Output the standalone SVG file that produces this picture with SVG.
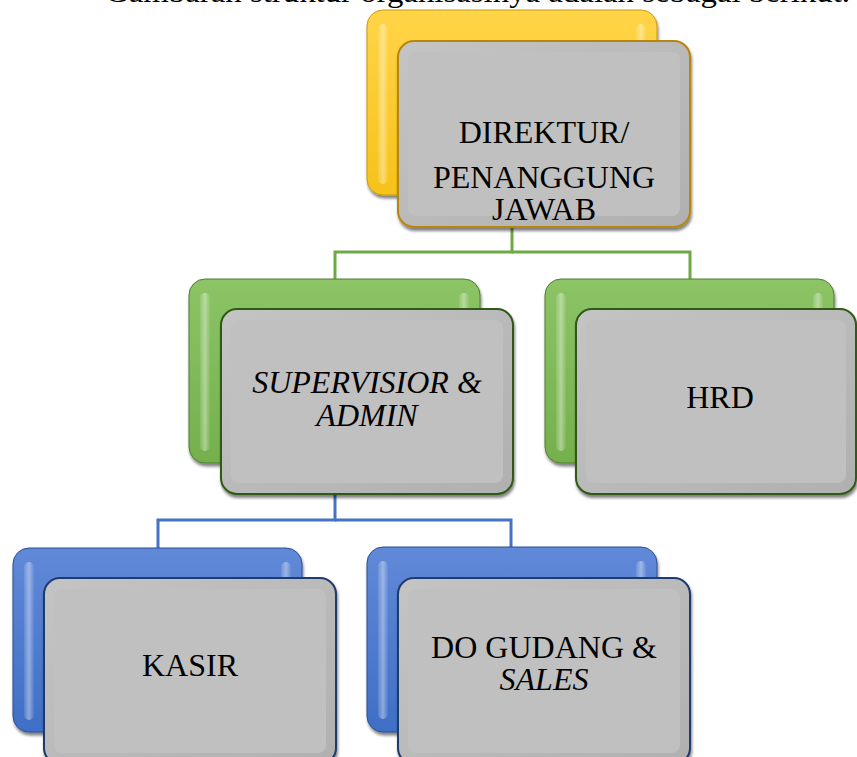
<svg xmlns="http://www.w3.org/2000/svg" width="857" height="757" viewBox="0 0 857 757">
<defs>
<linearGradient id="gY" x1="0" y1="0" x2="0" y2="1"><stop offset="0" stop-color="#ffd447"/><stop offset="1" stop-color="#f6c21a"/></linearGradient>
<linearGradient id="gG" x1="0" y1="0" x2="0" y2="1"><stop offset="0" stop-color="#8cc466"/><stop offset="1" stop-color="#74b04c"/></linearGradient>
<linearGradient id="gB" x1="0" y1="0" x2="0" y2="1"><stop offset="0" stop-color="#6189d8"/><stop offset="1" stop-color="#3f6fc6"/></linearGradient>
<linearGradient id="hl" x1="0" y1="0" x2="1" y2="0"><stop offset="0" stop-color="#ffffff" stop-opacity="0.1"/><stop offset="0.5" stop-color="#ffffff" stop-opacity="0.4"/><stop offset="1" stop-color="#ffffff" stop-opacity="0.05"/></linearGradient>
<linearGradient id="bev" x1="0" y1="0" x2="1" y2="1"><stop offset="0" stop-color="#c4c4c4"/><stop offset="1" stop-color="#b0b0b0"/></linearGradient>
<filter id="sh" x="-5%" y="-5%" width="115%" height="115%"><feGaussianBlur in="SourceAlpha" stdDeviation="1.5"/><feOffset dx="1" dy="3"/><feComponentTransfer><feFuncA type="linear" slope="0.5"/></feComponentTransfer><feMerge><feMergeNode/><feMergeNode in="SourceGraphic"/></feMerge></filter>
</defs>
<style>
.t{font-family:"Liberation Serif","Times New Roman",serif;font-size:32px;fill:#000;text-anchor:middle}
.i{font-style:italic}
.top{font-family:"Liberation Serif","Times New Roman",serif;font-size:30px;fill:#000}
.hl{fill:url(#hl)}
.face{fill:url(#bev);stroke-width:2}
.inner{fill:#c0c0c0}
.cg{fill:none;stroke:#6fa946;stroke-width:3}
.cb{fill:none;stroke:#4472c4;stroke-width:3}
</style>
<text class="top" x="105" y="2" textLength="745" lengthAdjust="spacingAndGlyphs">Gambaran struktur organisasinya adalah sebagai berikut.</text>

<g id="connectors">
<polyline class="cg" points="512,226 512,252 335,252 335,280"/>
<polyline class="cg" points="512,252 690,252 690,280"/>
<polyline class="cb" points="335,494 335,520 158,520 158,548"/>
<polyline class="cb" points="335,520 511,520 511,548"/>
</g>

<g id="node-direktur">
<rect x="367" y="10" width="290" height="185" rx="16" fill="url(#gY)" stroke="#c99a10" stroke-width="1" filter="url(#sh)"/>
<rect x="378" y="24" width="10" height="160" rx="5" class="hl"/>
<rect x="636" y="24" width="10" height="40" rx="5" class="hl"/>
<rect x="398" y="41" width="292" height="186" rx="16" class="face" stroke="#b8860b" filter="url(#sh)"/>
<rect x="408" y="52" width="272" height="164" rx="8" class="inner"/>
<text class="t" x="544" y="143">DIREKTUR/</text>
<text class="t" x="544" y="188">PENANGGUNG</text>
<text class="t" x="544" y="220">JAWAB</text>
</g>

<g id="node-supervisor">
<rect x="189" y="279" width="291" height="184" rx="16" fill="url(#gG)" stroke="#4e7d30" stroke-width="1" filter="url(#sh)"/>
<rect x="200" y="293" width="10" height="158" rx="5" class="hl"/>
<rect x="459" y="293" width="10" height="40" rx="5" class="hl"/>
<rect x="221" y="309" width="292" height="185" rx="16" class="face" stroke="#2f5a17" filter="url(#sh)"/>
<rect x="231" y="320" width="272" height="163" rx="8" class="inner"/>
<text class="t i" x="367" y="393">SUPERVISIOR &amp;</text>
<text class="t i" x="367" y="426">ADMIN</text>
</g>

<g id="node-hrd">
<rect x="545" y="279" width="289" height="184" rx="16" fill="url(#gG)" stroke="#4e7d30" stroke-width="1" filter="url(#sh)"/>
<rect x="556" y="293" width="10" height="158" rx="5" class="hl"/>
<rect x="813" y="293" width="10" height="40" rx="5" class="hl"/>
<rect x="576" y="309" width="280" height="185" rx="16" class="face" stroke="#2f5a17" filter="url(#sh)"/>
<rect x="586" y="320" width="260" height="163" rx="8" class="inner"/>
<text class="t" x="720" y="408">HRD</text>
</g>

<g id="node-kasir">
<rect x="13" y="548" width="289" height="184" rx="16" fill="url(#gB)" stroke="#2a4f93" stroke-width="1" filter="url(#sh)"/>
<rect x="24" y="562" width="10" height="158" rx="5" class="hl"/>
<rect x="281" y="562" width="10" height="40" rx="5" class="hl"/>
<rect x="44" y="578" width="292" height="186" rx="16" class="face" stroke="#1e3a6e" filter="url(#sh)"/>
<rect x="54" y="589" width="272" height="164" rx="8" class="inner"/>
<text class="t" x="190" y="676">KASIR</text>
</g>

<g id="node-dogudang">
<rect x="367" y="547" width="290" height="185" rx="16" fill="url(#gB)" stroke="#2a4f93" stroke-width="1" filter="url(#sh)"/>
<rect x="378" y="561" width="10" height="158" rx="5" class="hl"/>
<rect x="636" y="561" width="10" height="40" rx="5" class="hl"/>
<rect x="398" y="578" width="292" height="186" rx="16" class="face" stroke="#1e3a6e" filter="url(#sh)"/>
<rect x="408" y="589" width="272" height="164" rx="8" class="inner"/>
<text class="t" x="544" y="658">DO GUDANG &amp;</text>
<text class="t i" x="544" y="690">SALES</text>
</g>
</svg>
